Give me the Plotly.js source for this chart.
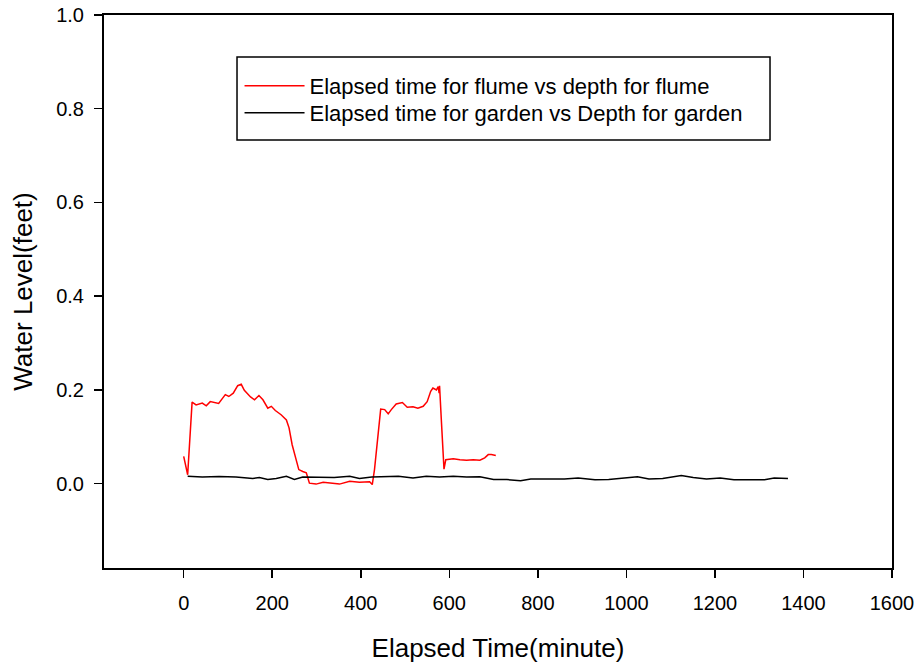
<!DOCTYPE html>
<html>
<head>
<meta charset="utf-8">
<script src="https://cdn.plot.ly/plotly-3.0.1.min.js"></script>
<style>html,body{margin:0;padding:0;background:#fff;}#chart{width:921px;height:666px;}</style>
</head>
<body>
<div id="chart"></div>
<script>
// Flume series (elapsed time in minutes, depth in feet)
var flumeTime = [0, 9, 19, 28, 42, 51, 60, 79, 94, 102, 112, 122, 130, 137, 151, 160, 170, 179, 190, 198, 207, 220, 232, 238, 245, 253, 260, 269, 277, 284, 299, 315, 330, 352, 375, 397, 420, 426, 431, 439, 445, 454, 462, 469, 480, 494, 505, 518, 529, 541, 550, 558, 563, 571, 575, 577, 578, 582, 586, 588, 592, 609, 624, 639, 654, 669, 680, 688, 695, 705];
var flumeDepth = [0.058, 0.019, 0.174, 0.168, 0.172, 0.166, 0.175, 0.171, 0.190, 0.186, 0.193, 0.209, 0.212, 0.199, 0.185, 0.179, 0.188, 0.179, 0.161, 0.165, 0.156, 0.147, 0.136, 0.119, 0.083, 0.055, 0.030, 0.026, 0.023, 0.001, -0.001, 0.003, 0.001, -0.001, 0.005, 0.003, 0.004, -0.002, 0.030, 0.101, 0.159, 0.158, 0.149, 0.158, 0.170, 0.173, 0.163, 0.164, 0.161, 0.165, 0.175, 0.197, 0.204, 0.200, 0.207, 0.193, 0.209, 0.136, 0.058, 0.031, 0.051, 0.053, 0.051, 0.050, 0.051, 0.050, 0.055, 0.062, 0.062, 0.060];

// Garden series
var gardenTime = [9, 42, 80, 118, 156, 171, 190, 209, 232, 250, 269, 303, 340, 375, 397, 425, 455, 485, 518, 548, 578, 609, 639, 669, 700, 730, 761, 784, 822, 860, 891, 929, 960, 990, 1025, 1051, 1082, 1124, 1151, 1181, 1212, 1243, 1281, 1312, 1334, 1365];
var gardenDepth = [0.0156, 0.014, 0.015, 0.014, 0.011, 0.013, 0.009, 0.011, 0.0156, 0.009, 0.014, 0.013, 0.013, 0.0156, 0.011, 0.014, 0.014, 0.0156, 0.012, 0.0156, 0.014, 0.0156, 0.014, 0.0145, 0.0088, 0.0088, 0.006, 0.010, 0.010, 0.010, 0.012, 0.0085, 0.009, 0.012, 0.0145, 0.010, 0.011, 0.0175, 0.013, 0.010, 0.012, 0.0085, 0.009, 0.0085, 0.012, 0.011];

var seriesNames = ["Elapsed time for flume vs depth for flume", "Elapsed time for garden vs Depth for garden"];
var xTicks = [0, 200, 400, 600, 800, 1000, 1200, 1400, 1600];
var yTicks = [0.0, 0.2, 0.4, 0.6, 0.8, 1.0];

var FONT = "Arial, 'Liberation Sans', sans-serif";

var traces = [
  {x: flumeTime, y: flumeDepth, mode: "lines", name: seriesNames[0], legend: "legend", line: {color: "#ff0000", width: 1.5}},
  {x: gardenTime, y: gardenDepth, mode: "lines", name: seriesNames[1], legend: "legend2", line: {color: "#000000", width: 1.5}}
];

var axisCommon = {
  showgrid: false, zeroline: false, showline: true, linecolor: "#000", linewidth: 2,
  mirror: true, ticks: "outside", ticklen: 8, tickwidth: 1.5, tickcolor: "#000",
  tickfont: {family: FONT, size: 20, color: "#000"}
};

var legendCommon = {
  x: 0.172, xanchor: "left", yanchor: "middle",
  bgcolor: "rgba(0,0,0,0)", borderwidth: 0, itemwidth: 60,
  font: {family: FONT, size: 22, color: "#000"}
};

var layout = {
  width: 921, height: 666,
  margin: {l: 104, r: 29, t: 15, b: 98},
  paper_bgcolor: "#fff", plot_bgcolor: "#fff",
  font: {family: FONT, color: "#000"},
  xaxis: Object.assign({}, axisCommon, {
    range: [-180, 1600], tickvals: xTicks, ticklabelstandoff: 8,
    title: {text: "Elapsed Time(minute)", font: {family: FONT, size: 26}, standoff: 26}
  }),
  yaxis: Object.assign({}, axisCommon, {
    range: [-0.18, 1.0], tickvals: yTicks, tickformat: ".1f", ticklabelstandoff: 6,
    title: {text: "Water Level(feet)", font: {family: FONT, size: 26}, standoff: 16}
  }),
  shapes: [{
    type: "rect", xref: "paper", yref: "paper",
    x0: 0.1688, x1: 0.8452, y0: 0.774, y1: 0.924,
    line: {color: "#000", width: 1.5}, fillcolor: "rgba(0,0,0,0)", layer: "above"
  }],
  showlegend: true,
  legend: Object.assign({}, legendCommon, {y: 0.8716}),
  legend2: Object.assign({}, legendCommon, {y: 0.8228})
};

Plotly.newPlot("chart", traces, layout, {displayModeBar: false, staticPlot: true});
</script>
</body>
</html>
